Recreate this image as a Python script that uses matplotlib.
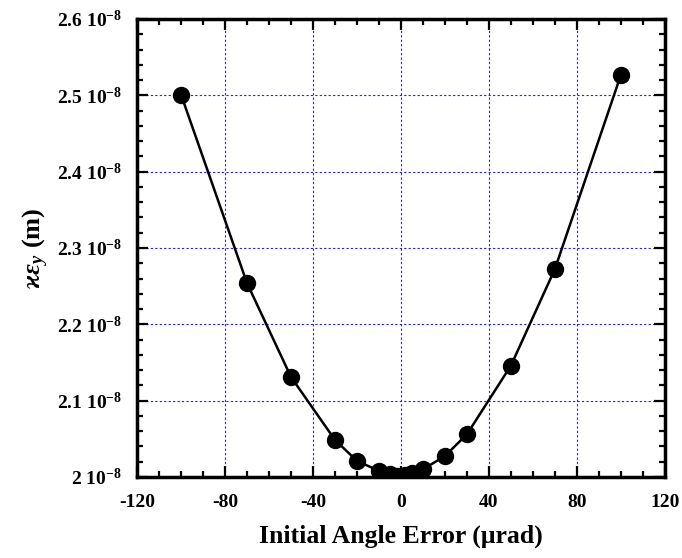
import numpy as np
import matplotlib
matplotlib.use("Agg")
from matplotlib import pyplot as plt
from matplotlib.ticker import MultipleLocator, FixedLocator, FixedFormatter

# angle error (urad) and emittance (m)
angle_err = [-100, -70, -50, -30, -20, -10, -5, -2, 0, 2, 5, 10, 20, 30, 50, 70, 100]
emit_y = [2.501e-8, 2.254e-8, 2.131e-8, 2.0485e-8, 2.021e-8, 2.008e-8, 2.004e-8,
          2.0015e-8, 2.001e-8, 2.002e-8, 2.005e-8, 2.010e-8, 2.0275e-8, 2.056e-8,
          2.146e-8, 2.2726e-8, 2.527e-8]

x_ticks = [-120, -80, -40, 0, 40, 80, 120]
y_ticks = [2.0e-8, 2.1e-8, 2.2e-8, 2.3e-8, 2.4e-8, 2.5e-8, 2.6e-8]
y_ticklabels = [r"2 10$^{-8}$", r"2.1 10$^{-8}$", r"2.2 10$^{-8}$", r"2.3 10$^{-8}$",
                r"2.4 10$^{-8}$", r"2.5 10$^{-8}$", r"2.6 10$^{-8}$"]

plt.rcParams['font.family'] = ['Liberation Serif', 'DejaVu Serif']
plt.rcParams['font.weight'] = 'bold'
plt.rcParams['axes.unicode_minus'] = False
plt.rcParams['mathtext.fontset'] = 'custom'
plt.rcParams['mathtext.rm'] = 'Liberation Serif:bold'
plt.rcParams['mathtext.bf'] = 'Liberation Serif:bold'
plt.rcParams['mathtext.it'] = 'Liberation Serif:italic:bold'

fig = plt.figure(figsize=(6.82, 5.58), dpi=100)
ax = fig.add_axes([0.2009, 0.1452, 0.7741, 0.8208])

ax.plot(angle_err, emit_y, 'k-', linewidth=1.8, marker='o', markersize=11.5, zorder=3)

ax.set_xlim(-120, 120)
ax.set_ylim(2.0e-8, 2.6e-8)

ax.xaxis.set_major_locator(FixedLocator(x_ticks))
ax.xaxis.set_minor_locator(MultipleLocator(10))
ax.yaxis.set_major_locator(FixedLocator(y_ticks))
ax.yaxis.set_major_formatter(FixedFormatter(y_ticklabels))
ax.yaxis.set_minor_locator(MultipleLocator(0.02e-8))

ax.tick_params(which='both', direction='in', top=True, right=True, width=1.6, labelsize=14)
ax.tick_params(which='major', length=8)
ax.tick_params(axis='x', which='major', pad=12)
ax.tick_params(axis='y', which='major', pad=11)
ax.tick_params(which='minor', length=4)
for lab in ax.get_xticklabels() + ax.get_yticklabels():
    lab.set_fontweight('bold')

for sp in ax.spines.values():
    sp.set_linewidth(2.5)

#blue dotted grid
ax.grid(True, which='major', color='#2020ff', linestyle=(0, (2, 2)), linewidth=0.8)
ax.set_axisbelow(True)

ax.set_xlabel('Initial Angle Error (\u03bcrad)', fontsize=18.5, fontweight='bold', labelpad=10)
ax.set_ylabel(r'$\varkappa\varepsilon_y$ (m)', fontsize=19, fontweight='bold', labelpad=4)

fig.savefig('out.png', dpi=100)
